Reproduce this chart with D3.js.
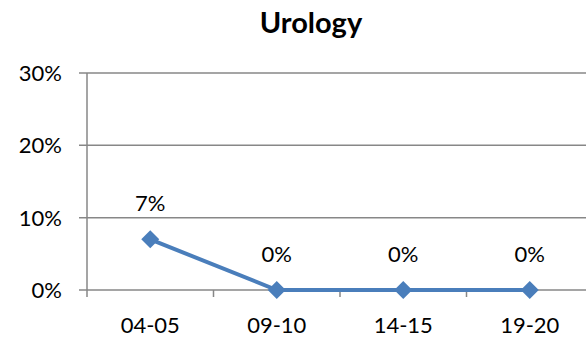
<!DOCTYPE html>
<html><head><meta charset="utf-8">
<script src="https://cdn.jsdelivr.net/npm/d3@7"></script>
<style>body{margin:0;background:#fff}svg{display:block}text{font-family:Lato,"Open Sans",sans-serif;fill:#000}</style>
</head><body><svg id="c" width="586" height="342"></svg>
<script>
const categories=["04-05","09-10","14-15","19-20"];
const values=[0.07,0,0,0];
const yTicks=[0,0.1,0.2,0.3];
const title="Urology";

(function(){
const svg=d3.select("#c");
const mL=87,mR=593,mT=73,mB=290;
const x=d3.scaleBand().domain(categories).range([mL,mR]);
const y=d3.scaleLinear().domain([0,0.3]).range([mB,mT]);
const grid="#878787";

svg.append("g").selectAll("line").data(yTicks).join("line")
 .attr("x1",mL-8).attr("x2",mR).attr("y1",d=>y(d)).attr("y2",d=>y(d))
 .attr("stroke",grid).attr("stroke-width",1.5);
svg.append("line").attr("x1",mL).attr("x2",mL).attr("y1",mT).attr("y2",mB+7).attr("stroke",grid).attr("stroke-width",1.5);
const bounds=categories.slice(1).map(c=>x(c));
svg.append("g").selectAll("line").data(bounds).join("line")
 .attr("x1",d=>d).attr("x2",d=>d).attr("y1",mB).attr("y2",mB+7).attr("stroke",grid).attr("stroke-width",1.5);

svg.append("g").selectAll("text").data(yTicks).join("text")
 .attr("x",62).attr("y",d=>y(d)+8).attr("text-anchor","end")
 .attr("font-size",22).text(d3.format(".0%"));
svg.append("g").selectAll("text").data(categories).join("text")
 .attr("x",d=>x(d)+x.bandwidth()/2).attr("y",333).attr("text-anchor","middle")
 .attr("font-size",22).text(d=>d);

const cx=(d,i)=>x(categories[i])+x.bandwidth()/2;
svg.append("path").datum(values)
 .attr("d",d3.line().x(cx).y(d=>y(d)))
 .attr("fill","none").attr("stroke","#4a7ebb").attr("stroke-width",4);
svg.append("g").selectAll("path").data(values).join("path")
 .attr("transform",(d,i)=>`translate(${cx(d,i)},${y(d)})`)
 .attr("d","M0,-9L9,0L0,9L-9,0Z").attr("fill","#4a7ebb");
svg.append("g").selectAll("text").data(values).join("text")
 .attr("x",cx).attr("y",d=>y(d)-28).attr("text-anchor","middle")
 .attr("font-size",22).text(d3.format(".0%"));

svg.append("text").attr("x",311).attr("y",33).attr("text-anchor","middle")
 .attr("font-size",29).attr("font-weight","bold").text(title);
})();
</script></body></html>
